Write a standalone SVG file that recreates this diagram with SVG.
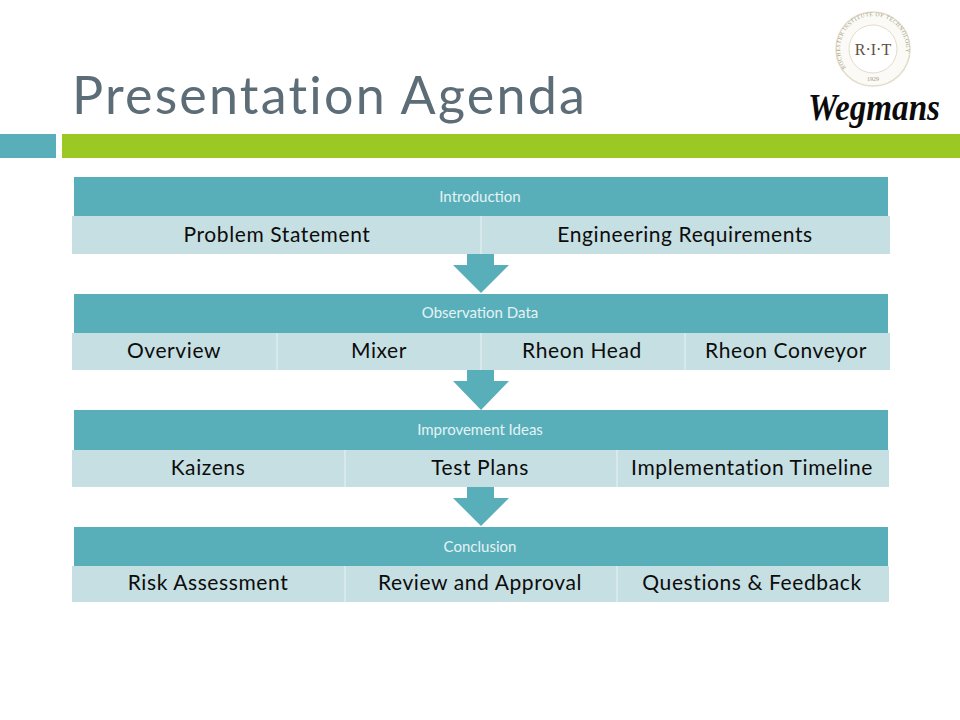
<svg xmlns="http://www.w3.org/2000/svg" width="960" height="720" viewBox="0 0 960 720">
<style>
text{font-family:"Lato","Liberation Sans",sans-serif}
.h{fill:#59afb9}
.b{fill:#c6dfe2}
.sep{stroke:#dcecee;stroke-width:1.5}
.ht{fill:#e4f3f5;font-size:15px;text-anchor:middle}
.bt{fill:#0c0c0c;font-size:21px;text-anchor:middle;letter-spacing:.6px}
</style>
<rect width="960" height="720" fill="#fff"/>
<text x="72" y="114" font-size="52" fill="#5d6d78" letter-spacing="2.2">Presentation Agenda</text>
<rect x="0" y="134" width="56" height="24" fill="#59afb9"/>
<rect x="62" y="134" width="898" height="24" fill="#9bc822"/>
<g id="logo-rit">
<circle cx="873" cy="49" r="37" fill="#fbfaf6" stroke="#e3dccb" stroke-width="1.5"/>
<circle cx="873" cy="49" r="24" fill="#fff" stroke="#e3dccb" stroke-width="1"/>
<path id="arc" d="M846 68A33 33 0 1 1 900 68" fill="none"/>
<text font-size="5.6" fill="#a39a80" letter-spacing=".5" style="font-family:'Liberation Serif',serif"><textPath href="#arc">ROCHESTER INSTITUTE OF TECHNOLOGY</textPath></text>
<text x="873" y="55" font-size="16" fill="#5e4f42" text-anchor="middle" style="font-family:'Liberation Serif',serif">R·I·T</text>
<text x="873" y="81" font-size="6" fill="#a39a80" text-anchor="middle" style="font-family:'Liberation Serif',serif">1929</text>
</g>
<text id="logo-wegmans" x="808" y="120" font-size="37" font-style="italic" font-weight="bold" fill="#0b0b0b" textLength="132" lengthAdjust="spacingAndGlyphs" style="font-family:'Liberation Serif',serif">Wegmans</text>
<g id="connectors" fill="#59afb9">
<path id="c1" d="M467 254H494V265H509L481 293L453 265H467Z"/>
<path id="c2" d="M467 370H494V381H509L481 410L453 381H467Z"/>
<path id="c3" d="M467 487H494V498H509L481 526L453 498H467Z"/>
</g>
<g id="n1">
<rect class="h" x="74" y="177" width="814" height="39"/>
<rect class="b" x="72" y="216" width="818" height="38"/>
<line class="sep" x1="481" y1="216" x2="481" y2="254"/>
<text class="ht" x="480" y="202">Introduction</text>
<text class="bt" x="277" y="242">Problem Statement</text>
<text class="bt" x="685" y="242">Engineering Requirements</text>
</g>
<g id="n2">
<rect class="h" x="74" y="294" width="814" height="39"/>
<rect class="b" x="72" y="333" width="818" height="37"/>
<line class="sep" x1="277" y1="333" x2="277" y2="370"/>
<line class="sep" x1="481" y1="333" x2="481" y2="370"/>
<line class="sep" x1="685" y1="333" x2="685" y2="370"/>
<text class="ht" x="480" y="318">Observation Data</text>
<text class="bt" x="174" y="358">Overview</text>
<text class="bt" x="379" y="358">Mixer</text>
<text class="bt" x="582" y="358">Rheon Head</text>
<text class="bt" x="786" y="358">Rheon Conveyor</text>
</g>
<g id="n3">
<rect class="h" x="74" y="410" width="814" height="40"/>
<rect class="b" x="72" y="450" width="817" height="37"/>
<line class="sep" x1="345" y1="450" x2="345" y2="487"/>
<line class="sep" x1="617" y1="450" x2="617" y2="487"/>
<text class="ht" x="480" y="435">Improvement Ideas</text>
<text class="bt" x="208" y="475">Kaizens</text>
<text class="bt" x="480" y="475">Test Plans</text>
<text class="bt" x="752" y="475">Implementation Timeline</text>
</g>
<g id="n4">
<rect class="h" x="74" y="527" width="814" height="39"/>
<rect class="b" x="72" y="566" width="817" height="36"/>
<line class="sep" x1="345" y1="566" x2="345" y2="602"/>
<line class="sep" x1="617" y1="566" x2="617" y2="602"/>
<text class="ht" x="480" y="552">Conclusion</text>
<text class="bt" x="208" y="590">Risk Assessment</text>
<text class="bt" x="480" y="590">Review and Approval</text>
<text class="bt" x="752" y="590">Questions &amp; Feedback</text>
</g>
</svg>
